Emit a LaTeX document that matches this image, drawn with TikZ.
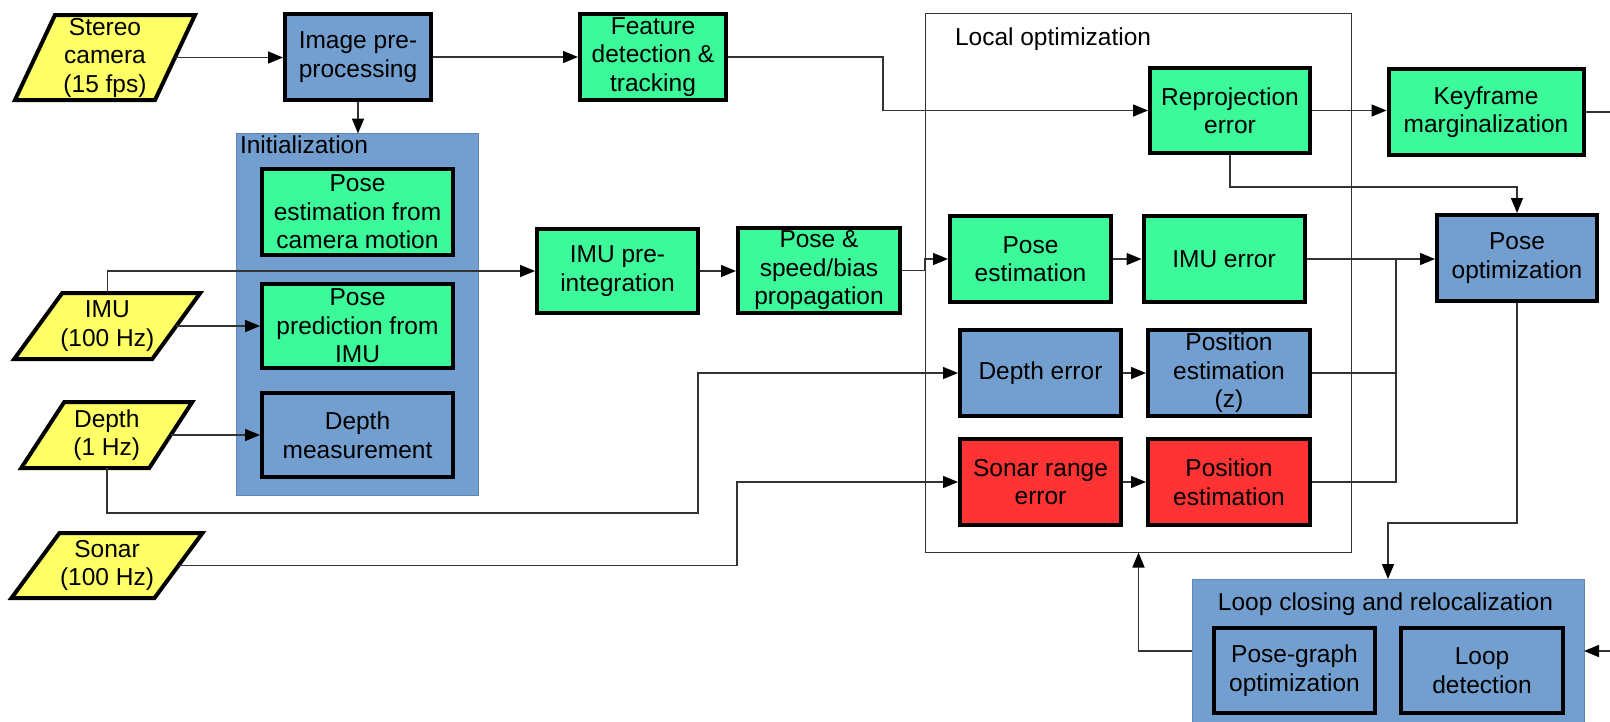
\documentclass[tikz,border=0pt]{standalone}
\usepackage{fontspec}
\setmainfont{Liberation Sans}
\usetikzlibrary{arrows.meta,calc}
\definecolor{inyellow}{HTML}{FFFF66}
\definecolor{mint}{HTML}{3CF99A}
\definecolor{steel}{HTML}{729FCF}
\definecolor{alert}{HTML}{FF3333}
\definecolor{wire}{HTML}{333333}
\pgfdeclarelayer{back}
\pgfsetlayers{back,main}
\begin{document}
\begin{tikzpicture}[x=1pt,y=-1pt,
  every node/.style={font=\fontsize{24.5}{28.5}\selectfont},
  box/.style={draw=black, line width=4pt, inner sep=0pt, outer sep=2pt, align=center,
              minimum height=86pt},
  gbox/.style={box, fill=mint},
  bbox/.style={box, fill=steel},
  rbox/.style={box, fill=alert},
  inp/.style={inner sep=0pt, outer sep=0pt, align=center},
  para/.style={draw=black, line width=4pt, fill=inyellow, line join=miter},
  group/.style={fill=steel, draw=steel!85!black, line width=1pt, inner sep=0pt, outer sep=0pt},
  label/.style={inner sep=0pt, outer sep=0pt},
  wireline/.style={draw=wire, line width=1.5pt},
  conn/.style={wireline, -{Triangle[length=15pt,width=12pt,color=black]}}
]
\useasboundingbox (0,0) rectangle (1610,721);

% grouping frames
\node[group, minimum width=242pt, minimum height=362pt] (init) at (357.5,314.5) {};
\node[label, anchor=west] (initlbl) at (240,145) {Initialization};

\node[draw=wire, line width=1.5pt, inner sep=0pt, outer sep=0pt,
      minimum width=426pt, minimum height=539pt] (lopt) at (1138.5,283) {};
\node[label, anchor=west] (loptlbl) at (955,39) {Local optimization};

% this frame runs past the lower edge of the page
\node[group, minimum width=392pt, minimum height=154pt] (loop) at (1388,656) {};
\node[label] (looplbl) at (1385.5,604) {Loop closing and relocalization};

% sensor inputs (parallelograms)
\node[inp, minimum width=140pt, minimum height=85pt] (cam) at (105,57.5) {Stereo\\camera\\(15 fps)};
\node[inp, minimum width=138pt, minimum height=66pt] (imu) at (107.25,326) {IMU\\(100 Hz)};
\node[inp, minimum width=128pt, minimum height=66pt] (depth) at (106.75,435) {Depth\\(1 Hz)};
\node[inp, minimum width=143pt, minimum height=65pt] (sonar) at (107,565.5) {Sonar\\(100 Hz)};
\begin{pgfonlayer}{back}
  \foreach \n/\s in {cam/20,imu/24,depth/21.5,sonar/24}{
    \draw[para] ($(\n.north west)+(\s,0)$) -- ($(\n.north east)+(\s,0)$)
      -- ($(\n.south east)-(\s,0)$) -- ($(\n.south west)-(\s,0)$) -- cycle;
  }
\end{pgfonlayer}

% processing blocks
\node[bbox, minimum width=146pt] (pre) at (358,57) {Image pre-\\processing};
\node[gbox, minimum width=146pt] (feat) at (653,57) {Feature\\detection \&\\tracking};
\node[gbox, minimum width=191pt] (camm) at (357.5,212) {Pose\\estimation from\\camera motion};
\node[gbox, minimum width=191pt, minimum height=84pt] (ppred) at (357.5,326) {Pose\\prediction from\\IMU};
\node[bbox, minimum width=191pt, minimum height=84pt] (dmeas) at (357.5,435) {Depth\\measurement};
\node[gbox, minimum width=161pt, minimum height=84pt] (preint) at (617.5,271) {IMU pre-\\integration};
\node[gbox, minimum width=162pt, minimum height=85pt] (prop) at (819,270.5) {Pose \&\\speed/bias\\propagation};
\node[gbox, minimum width=160pt, minimum height=85pt] (reproj) at (1230,110.5) {Reprojection\\error};
\node[gbox, minimum width=195pt] (kf) at (1486,112) {Keyframe\\marginalization};
\node[bbox, minimum width=160pt] (popt) at (1517,258) {Pose\\optimization};
\node[gbox, minimum width=161pt] (pest) at (1030.5,259) {Pose\\estimation};
\node[gbox, minimum width=161pt] (imuerr) at (1224,259) {IMU error};
\node[bbox, minimum width=161pt] (derr) at (1040.5,373) {Depth error};
\node[bbox, minimum width=162pt] (posz) at (1229,373) {Position\\estimation\\(z)};
\node[rbox, minimum width=161pt] (serr) at (1040.5,482) {Sonar range\\error};
\node[rbox, minimum width=162pt] (pos) at (1229,482) {Position\\estimation};
\node[bbox, minimum width=161pt, minimum height=85pt] (pg) at (1294.5,670.5) {Pose-graph\\optimization};
\node[bbox, minimum width=162pt, minimum height=85pt] (ld) at (1482,670.5) {Loop\\detection};

% connectors
\draw[conn] (cam.east) -- (cam.east -| pre.west);
\draw[conn] (pre.east) -- (feat.west);
\draw[conn] (pre.south) -- (pre.south |- init.north);
\draw[conn] (feat.east) -- ++(155,0) |- (reproj.west);
\draw[conn] (imu.north) |- (preint.west);
\draw[conn] (imu.east) -- (imu.east -| ppred.west);
\draw[conn] (depth.east) -- (depth.east -| dmeas.west);
\draw[conn] (depth.south) -- ++(0,45) -- ++(591,0) |- (derr.west);
\draw[conn] (sonar.east) -- ++(558.5,0) |- (serr.west);
\draw[conn] (preint.east) -- (preint.east -| prop.west);
\draw[conn] (prop.east) -- ++(23,0) |- (pest.west);
\draw[conn] (pest.east) -- (imuerr.west);
\draw[conn] (imuerr.east) -- (imuerr.east -| popt.west);
\draw[conn] (reproj.east) -- (reproj.east -| kf.west);
\draw[conn] (reproj.south) -- ++(0,32) -| (popt.north);
\coordinate (kfout) at (1610,111.5);
\draw[wireline] (kf.east) -- (kf.east -| kfout);
\draw[conn] (derr.east) -- (posz.west);
\draw[conn] (serr.east) -- (pos.west);
\coordinate (merge) at (1396,259);
\draw[wireline] (posz.east) -- (posz.east -| merge);
\draw[wireline] (pos.east) -| (merge);
\draw[conn] (popt.south) -- ++(0,220) -| (loop.north);
\coordinate (ldin) at (1610,651);
\draw[conn] (ldin) -- (ldin -| loop.east);
\draw[conn] (loop.west |- ldin) -| (lopt.south);
\end{tikzpicture}
\end{document}
